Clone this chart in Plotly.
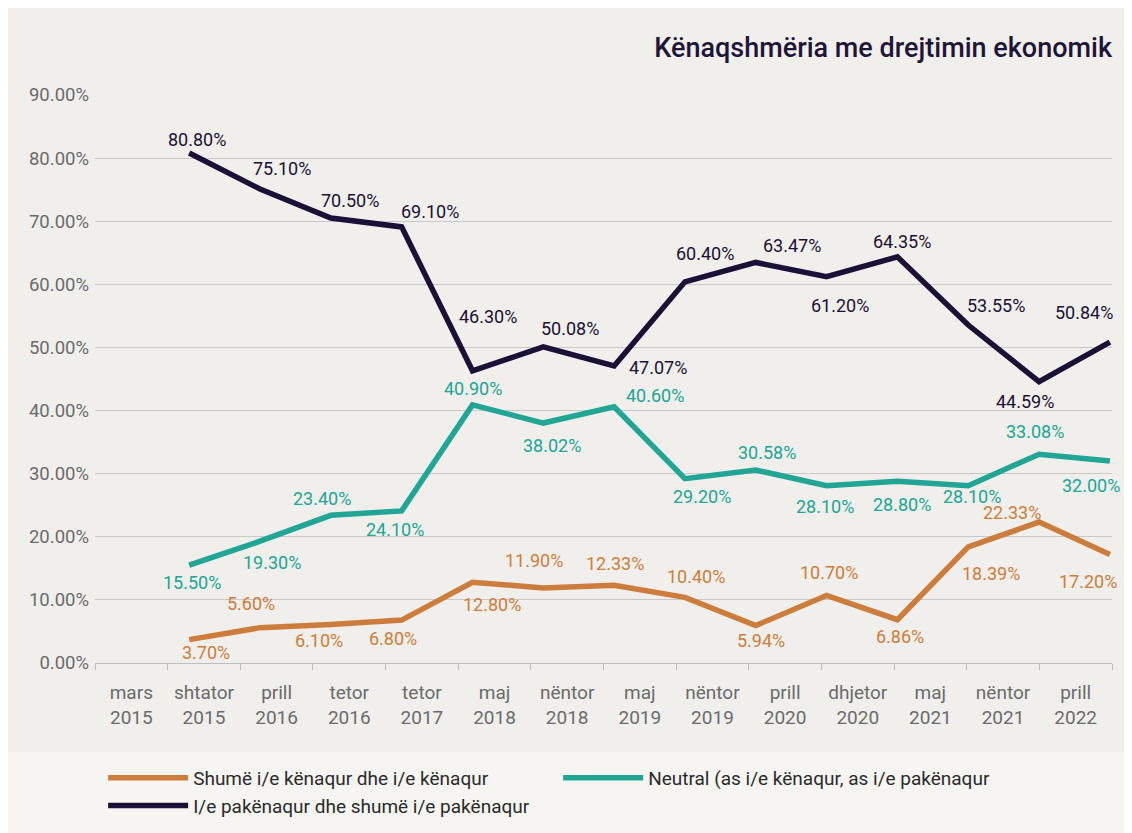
import plotly.graph_objects as go

# ---- data ----
periods = ["mars 2015", "shtator 2015", "prill 2016", "tetor 2016", "tetor 2017",
           "maj 2018", "nëntor 2018", "maj 2019", "nëntor 2019", "prill 2020",
           "dhjetor 2020", "maj 2021", "nëntor 2021", "prill 2022"]

satisfied = [3.70, 5.60, 6.10, 6.80, 12.80, 11.90, 12.33, 10.40, 5.94, 10.70,
             6.86, 18.39, 22.33, 17.20]
neutral = [15.50, 19.30, 23.40, 24.10, 40.90, 38.02, 40.60, 29.20, 30.58, 28.10,
           28.80, 28.10, 33.08, 32.00]
dissatisfied = [80.80, 75.10, 70.50, 69.10, 46.30, 50.08, 47.07, 60.40, 63.47,
                61.20, 64.35, 53.55, 44.59, 50.84]

names = ["Shumë i/e kënaqur dhe i/e kënaqur",
         "Neutral (as i/e kënaqur, as i/e pakënaqur",
         "I/e pakënaqur dhe shumë i/e pakënaqur"]
title = "Kënaqshmëria me drejtimin ekonomik"
yticks = [0, 10, 20, 30, 40, 50, 60, 70, 80, 90]

# ---- styles ----
C_OR = "#cd7d3b"
C_TE = "#21a595"
C_DK = "#1b1035"
FONT = "Roboto"
BG = "#f0efeb"

# label offsets in pixels (xshift, yshift) relative to each point
off_or = [(17, -13), (-9, 24), (-12, -15.5), (-9, -18), (20, -22), (-9, 27), (1, 22),
          (11, 21), (5, -14.5), (2, 22.5), (2.5, -17), (23, -27), (-27, 10), (-22, -27)]
off_te = [(3, -17), (12, -21), (-9, 17), (-7, -19), (1, 16), (9, -22), (41, 11),
          (17, -18), (11, 18), (-2, -21), (4.5, -23), (4, -10.5), (-4, 23), (-19, -24)]
off_dk = [(8, 14), (22, 21), (19, 18), (28, 15), (16, 54), (27, 18), (44, -2),
          (20, 28), (36, 16.5), (13, -29), (4.5, 15), (28, 20), (-14, -20), (-26, 30)]

fig = go.Figure()

# invisible trace anchoring the category axis
fig.add_trace(go.Scatter(x=periods, y=dissatisfied, mode="markers",
                         marker=dict(opacity=0), showlegend=False,
                         hoverinfo="skip", xaxis="x", yaxis="y"))

annotations = []
for vals, name, col, offs in [(satisfied, names[0], C_OR, off_or),
                              (neutral, names[1], C_TE, off_te),
                              (dissatisfied, names[2], C_DK, off_dk)]:
    fig.add_trace(go.Scatter(
        x=periods, y=vals, name=name, mode="lines",
        line=dict(color=col, width=5.5),
        xaxis="x2", yaxis="y",
    ))
    for p, v, (dx, dy) in zip(periods, vals, offs):
        annotations.append(dict(
            x=p, y=v, xref="x2", yref="y", text=f"{v:.2f}%", showarrow=False,
            xshift=dx, yshift=dy, xanchor="center", yanchor="middle",
            font=dict(family=FONT, size=18, color=col)))

# legend band
fig.add_shape(type="rect", xref="paper", yref="paper",
              x0=-0.2, x1=1.1, y0=-0.35, y1=-0.1567,
              fillcolor="#f6f5f2", line=dict(width=0), layer="below")

fig.update_layout(
    width=1124, height=825,
    margin=dict(l=87, r=20, t=87, b=170, autoexpand=False),
    paper_bgcolor=BG, plot_bgcolor=BG,
    font=dict(family=FONT, color="#6b6b6b"),
    annotations=annotations,
    title=dict(text=title, x=1, xref="paper", xanchor="right",
               y=1 - 40 / 825, yref="container", yanchor="middle",
               font=dict(family=FONT, size=27, color="#1e1538", weight=500)),
    xaxis=dict(type="category", categoryorder="array", categoryarray=periods,
               range=[-0.5, 13.5], tickmode="array", tickvals=periods,
               ticktext=[p.replace(" ", "<br>") for p in periods],
               tickson="boundaries", ticks="outside", ticklen=6,
               tickcolor="#bdbdbd", showline=True, linecolor="#bdbdbd",
               showgrid=False, tickfont=dict(size=19, color="#6b6b6b"),
               ticklabelstandoff=12),
    xaxis2=dict(type="category", categoryorder="array", categoryarray=periods,
                overlaying="x", range=[-1.33, 13.03], visible=False),
    yaxis=dict(range=[0, 90], tickvals=yticks,
               ticktext=[f"{v:.2f}%" for v in yticks],
               showgrid=True, gridcolor="#c9c9c9", gridwidth=1,
               zeroline=False, tickfont=dict(size=18.5, color="#6b6b6b"),
               ticks="", ticklabelstandoff=5),
    showlegend=True,
    legend=dict(orientation="h", x=0.008, xanchor="left", y=-0.169, yanchor="top",
                entrywidth=360, entrywidthmode="pixels",
                font=dict(size=19, color="#2b2b2b"), bgcolor="rgba(0,0,0,0)",
                itemwidth=80),
)

fig.write_html("out.html")
